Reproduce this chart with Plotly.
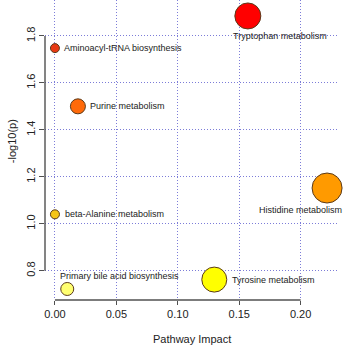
import plotly.graph_objects as go

pathways = ["Tryptophan metabolism", "Aminoacyl-tRNA biosynthesis", "Purine metabolism",
            "Histidine metabolism", "beta-Alanine metabolism", "Primary bile acid biosynthesis",
            "Tyrosine metabolism"]
impact = [0.157, 0.0, 0.0187, 0.2215, 0.0, 0.010, 0.1297]
neglogp = [1.885, 1.748, 1.50, 1.152, 1.040, 0.722, 0.762]
x_ticks = [0.0, 0.05, 0.10, 0.15, 0.20]
x_tick_labels = ["0.00", "0.05", "0.10", "0.15", "0.20"]
y_ticks = [0.8, 1.0, 1.2, 1.4, 1.6, 1.8]
y_tick_labels = ["0.8", "1.0", "1.2", "1.4", "1.6", "1.8"]

# styles
marker_sizes = [26, 9, 15, 30, 9, 13, 25]
marker_colors = ["#FF0000", "#E83A14", "#FF6A0A", "#FF9A00", "#F5C518", "#FFFF70", "#FFFF00"]
# label placement: (xanchor, xshift px, yshift px)
label_anchor = ["left", "left", "left", "right", "left", "left", "left"]
label_dx = [-17, 7, 10, 17, 8, -9, 16]
label_dy = [-20, 0, 0, -22, 0, 13, 0]

FONT = "Liberation Sans, Arial"

fig = go.Figure()
fig.add_trace(go.Scatter(
    x=impact, y=neglogp, mode="markers",
    marker=dict(size=marker_sizes, color=marker_colors, opacity=1,
                line=dict(color="#5A3A1A", width=1)),
    hoverinfo="text", text=pathways, showlegend=False, cliponaxis=False))

for name, xv, yv, anc, dx, dy in zip(pathways, impact, neglogp, label_anchor, label_dx, label_dy):
    fig.add_annotation(x=xv, y=yv, text=name, showarrow=False, xanchor=anc, yanchor="middle",
                       xshift=dx, yshift=dy,
                       font=dict(family=FONT, size=9, color="#222222"))

axis_col = "#505050"
# R-style axis lines spanning first to last tick
fig.add_shape(type="line", xref="x", yref="paper", x0=x_ticks[0], x1=x_ticks[-1], y0=0, y1=0,
              line=dict(color=axis_col, width=1.4))
fig.add_shape(type="line", xref="paper", yref="y", x0=0, x1=0, y0=y_ticks[0], y1=y_ticks[-1],
              line=dict(color=axis_col, width=1.4))

fig.add_annotation(xref="paper", yref="paper", x=0.5, y=-0.129, yanchor="middle", text="Pathway Impact",
                   showarrow=False, font=dict(family=FONT, size=11, color="#222222"))
fig.add_annotation(xref="paper", yref="paper", x=-0.112, xanchor="center", y=0.53, text="-log10(p)",
                   textangle=-90, showarrow=False,
                   font=dict(family=FONT, size=11, color="#222222"))

grid_col = "#7C7CD8"
fig.update_xaxes(range=[-0.0081, 0.2304], tickvals=x_ticks, ticktext=x_tick_labels,
                 ticks="outside", ticklen=4, tickcolor=axis_col, tickwidth=1.2,
                 showline=False, zeroline=False, showgrid=True, gridcolor=grid_col,
                 griddash="1px,2px", gridwidth=1, automargin=False,
                 tickfont=dict(family=FONT, size=11, color="#222222"))
fig.update_yaxes(range=[0.675, 1.953], tickvals=y_ticks, ticktext=y_tick_labels, tickangle=-90,
                 ticks="outside", ticklen=5, tickcolor=axis_col, tickwidth=1.2,
                 showline=False, zeroline=False, showgrid=True, gridcolor=grid_col,
                 griddash="1px,2px", gridwidth=1, automargin=False,
                 tickfont=dict(family=FONT, size=11, color="#222222"))

fig.update_layout(width=350, height=346, margin=dict(l=45, r=12, t=0, b=46, autoexpand=False),
                  plot_bgcolor="white", paper_bgcolor="white", showlegend=False)

fig.write_html("out.html", config={"displayModeBar": False},
               post_script="document.body.style.margin='0';document.body.style.overflow='hidden';")
